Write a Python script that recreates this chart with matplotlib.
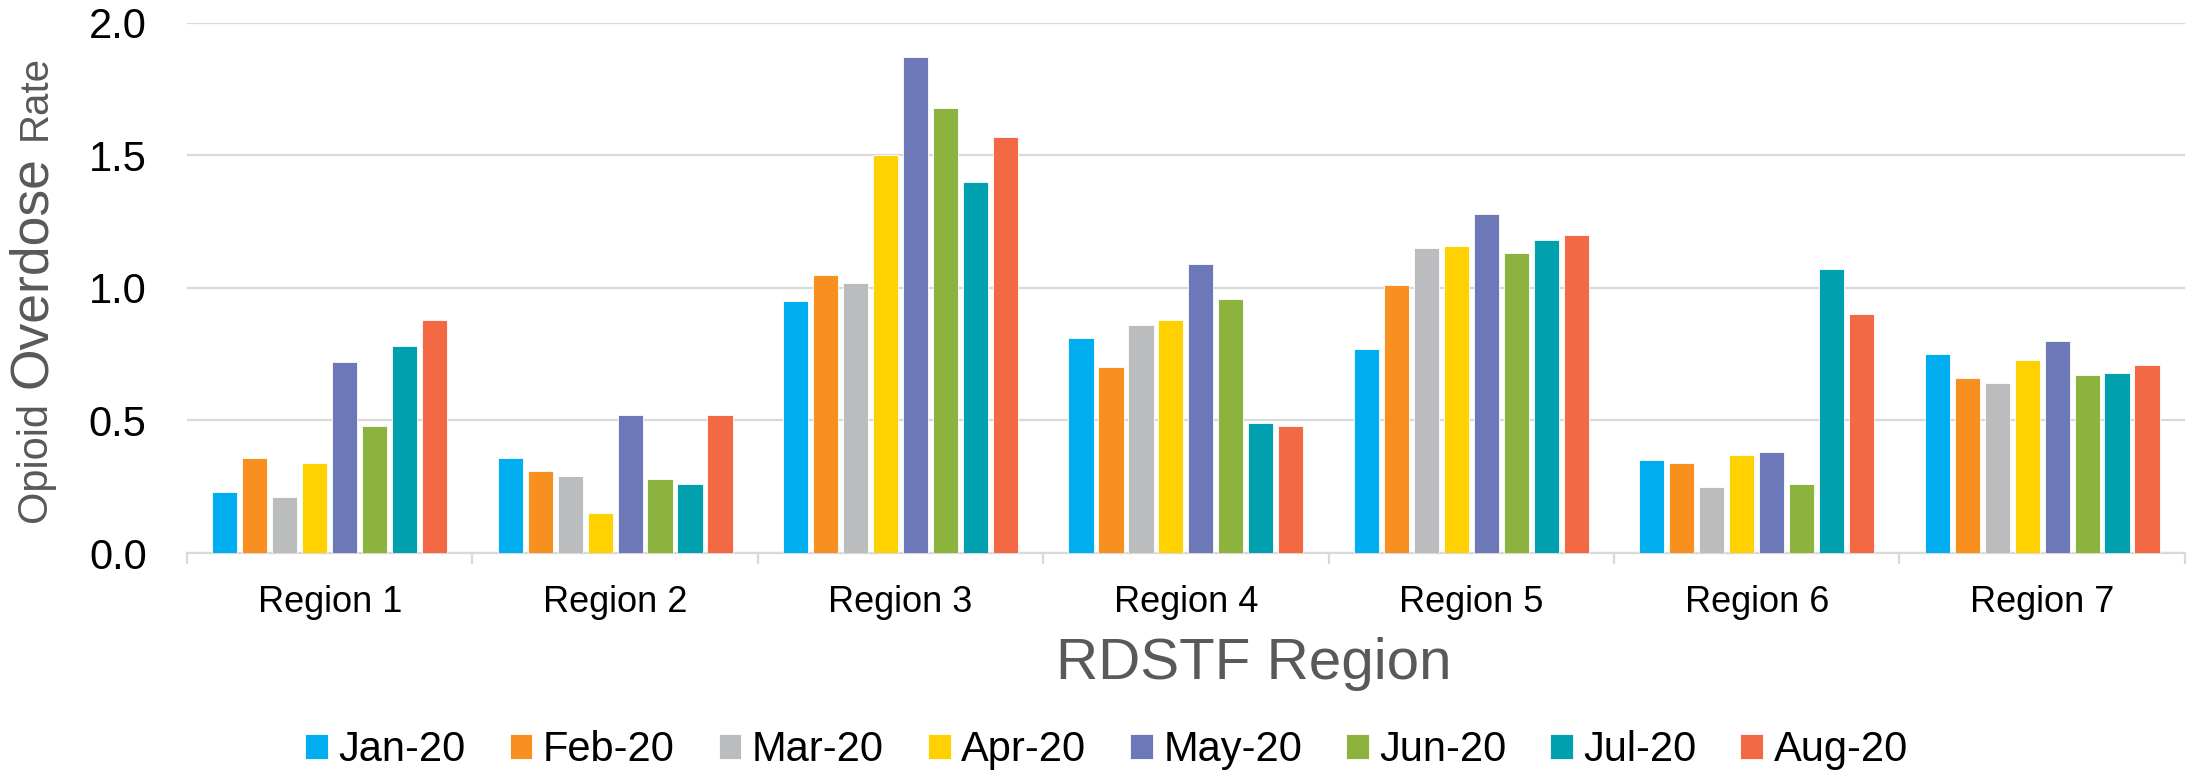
import numpy as np
import matplotlib
matplotlib.use('Agg')
import matplotlib.pyplot as plt

# regions on the x axis
regions = ['Region 1', 'Region 2', 'Region 3', 'Region 4', 'Region 5', 'Region 6', 'Region 7']

# overdose rate per month, one value per region
jan20 = [0.23, 0.36, 0.95, 0.81, 0.77, 0.35, 0.75]
feb20 = [0.36, 0.31, 1.05, 0.70, 1.01, 0.34, 0.66]
mar20 = [0.21, 0.29, 1.02, 0.86, 1.15, 0.25, 0.64]
apr20 = [0.34, 0.15, 1.50, 0.88, 1.16, 0.37, 0.73]
may20 = [0.72, 0.52, 1.87, 1.09, 1.28, 0.38, 0.80]
jun20 = [0.48, 0.28, 1.68, 0.96, 1.13, 0.26, 0.67]
jul20 = [0.78, 0.26, 1.40, 0.49, 1.18, 1.07, 0.68]
aug20 = [0.88, 0.52, 1.57, 0.48, 1.20, 0.90, 0.71]

months = ['Jan-20', 'Feb-20', 'Mar-20', 'Apr-20', 'May-20', 'Jun-20', 'Jul-20', 'Aug-20']
colors = ['#00AEEF', '#F7901E', '#BBBCBE', '#FFD100', '#6D78B8', '#8DB33F', '#00A0AF', '#F26944']

yticks = [0.0, 0.5, 1.0, 1.5, 2.0]


def plotBars():
	series = [jan20, feb20, mar20, apr20, may20, jun20, jul20, aug20]

	fig = plt.figure(figsize=(21.87, 7.74), dpi=100)
	ax = fig.add_axes([0.0855, 0.2855, 0.9135, 0.685])

	x = np.arange(len(regions))
	step = 0.105  # distance between bars inside a group
	for i, vals in enumerate(series):
		ax.bar(x + (i - 3.5) * step, vals, width=0.088, color=colors[i],
		       edgecolor='white', linewidth=0.6, label=months[i], zorder=3)

	ax.set_xlim(-0.5, len(regions) - 0.5)
	ax.set_ylim(0, 2.0)

	# y axis: gridlines only, no ticks
	ax.set_yticks(yticks)
	ax.set_yticklabels(['%.1f' % v for v in yticks])
	ax.grid(axis='y', color='#D9D9D9', linewidth=1.6, zorder=0)
	ax.tick_params(axis='y', length=0, pad=29, labelsize=30, labelcolor='black')

	# x axis: labels in the middle, little ticks between the groups
	ax.set_xticks(x)
	ax.set_xticklabels(regions)
	ax.set_xticks(np.arange(-0.5, len(regions), 1.0), minor=True)
	ax.tick_params(axis='x', which='major', length=0, pad=23, labelsize=26, labelcolor='black')
	ax.tick_params(axis='x', which='minor', length=8, width=1.6, color='#D9D9D9')

	for side in ['top', 'right', 'left']:
		ax.spines[side].set_visible(False)
	ax.spines['bottom'].set_color('#D9D9D9')
	ax.spines['bottom'].set_linewidth(1.6)

	# axis title sits a bit right of the middle
	ax.set_xlabel('RDSTF Region', fontsize=42, color='#595959', labelpad=12, x=0.534)

	# y label with a bigger middle word, built from three pieces
	fig.canvas.draw()
	renderer = fig.canvas.get_renderer()
	W, H = fig.get_size_inches() * fig.dpi
	ypos = 252.0
	for word, size, gap in [('Opioid', 30, 14), ('Overdose', 38.5, 16), ('Rate', 29, 0)]:
		t = fig.text(46.0 / W, ypos / H, word, rotation=90, rotation_mode='anchor',
		             ha='left', va='baseline', fontsize=size, color='#595959')
		bb = t.get_window_extent(renderer)
		ypos += bb.height + gap

	fig.legend(loc='center', bbox_to_anchor=(0.506, 0.031), ncol=8, frameon=False,
	           fontsize=30, handlelength=0.55, handleheight=0.55,
	           handletextpad=0.25, columnspacing=1.05)

	fig.savefig('out.png', dpi=100)


if __name__ == '__main__':
	plt.rcParams['font.family'] = ['Liberation Sans', 'DejaVu Sans']
	plotBars()
